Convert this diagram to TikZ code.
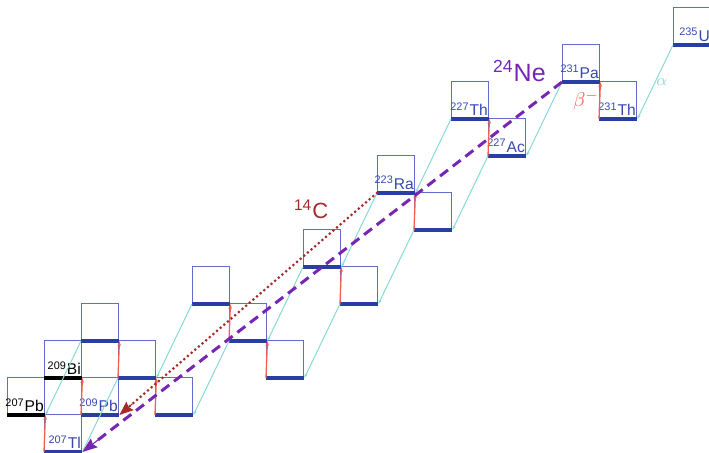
\documentclass[tikz,border=0pt]{standalone}
\usepackage{fontspec}
\setsansfont{Liberation Sans}
\usetikzlibrary{arrows.meta,positioning,calc}
\definecolor{boxblue}{RGB}{95,110,205}
\definecolor{baseblue}{RGB}{40,62,165}
\definecolor{txtblue}{RGB}{55,72,175}
\definecolor{alphacyan}{RGB}{135,218,212}
\definecolor{betared}{RGB}{242,95,82}
\definecolor{cred}{RGB}{165,42,42}
\definecolor{nepurple}{RGB}{118,38,178}

\begin{document}
\begin{tikzpicture}[
    x=18.5pt, y=18.5pt,
    nuc/.style={rectangle, draw=boxblue, line width=0.7pt, anchor=south west, minimum size=18.5pt, inner sep=0pt},
    base/.style={draw=baseblue, line width=2pt},
    stablebase/.style={draw=black, line width=2pt},
    lab/.style={anchor=south east, inner xsep=0.6pt, inner ysep=1.4pt, text=txtblue, font=\sffamily\fontsize{7.8}{8}\selectfont},
    stablelab/.style={lab, text=black},
    alphadec/.style={draw=alphacyan, line width=0.5pt, -{Stealth[length=2.2pt,width=1.6pt]}},
    betadec/.style={draw=betared, line width=0.65pt, -{Stealth[length=2.4pt,width=1.8pt]}},
    ctrack/.style={draw=cred, line width=1.5pt, line cap=round, dash pattern=on 0pt off 2.4pt},
    netrack/.style={draw=nepurple, line width=1.5pt, dash pattern=on 5pt off 3pt},
    ctip/.style={draw=cred, fill=cred, line width=0.5pt, -{Stealth[length=7pt,width=5.5pt,inset=1pt]}},
    netip/.style={draw=nepurple, fill=nepurple, line width=0.5pt, -{Stealth[length=7.5pt,width=5.5pt,inset=1pt]}}
]
    \useasboundingbox (-0.189,-0.027) rectangle (18.973,12.216);

    % Nuclides (column = N-125, row = Z-81)
    \node[nuc] (Pb207) at (0,1) {};
    \node[nuc] (Tl207) at (1,0) {};
    \node[nuc] (Bi209) at (1,2) {};
    \node[nuc] (Pb209) at (2,1) {};
    \node[nuc] (Po211) at (2,3) {};
    \node[nuc] (Bi211) at (3,2) {};
    \node[nuc] (Pb211) at (4,1) {};
    \node[nuc] (At215) at (5,4) {};
    \node[nuc] (Po215) at (6,3) {};
    \node[nuc] (Bi215) at (7,2) {};
    \node[nuc] (Rn219) at (8,5) {};
    \node[nuc] (At219) at (9,4) {};
    \node[nuc] (Ra223) at (10,7) {};
    \node[nuc] (Fr223) at (11,6) {};
    \node[nuc] (Th227) at (12,9) {};
    \node[nuc] (Ac227) at (13,8) {};
    \node[nuc] (Pa231) at (15,10) {};
    \node[nuc] (Th231) at (16,9) {};
    \node[nuc] (U235) at (18,11) {};

    % Ground-state bars
    \draw[stablebase] (Pb207.south west) -- (Pb207.south east);
    \draw[stablebase] (Bi209.south west) -- (Bi209.south east);
    \foreach \n in {Tl207,Pb209,Po211,Bi211,Pb211,At215,Po215,Bi215,Rn219,At219,Ra223,Fr223,Th227,Ac227,Pa231,Th231,U235}
        \draw[base] (\n.south west) -- (\n.south east);

    % Labels
    \node[stablelab] at (Pb207.south east) {\textsuperscript{207}Pb};
    \node[stablelab] at (Bi209.south east) {\textsuperscript{209}Bi};
    \node[lab] at (Tl207.south east) {\textsuperscript{207}Tl};
    \node[lab] at (Pb209.south east) {\textsuperscript{209}Pb};
    \node[lab] at (Ra223.south east) {\textsuperscript{223}Ra};
    \node[lab] at (Th227.south east) {\textsuperscript{227}Th};
    \node[lab] at (Ac227.south east) {\textsuperscript{227}Ac};
    \node[lab] at (Pa231.south east) {\textsuperscript{231}Pa};
    \node[lab] at (Th231.south east) {\textsuperscript{231}Th};
    \node[lab] at (U235.south east) {\textsuperscript{235}U};

    % Alpha decays
    \draw[alphadec] (U235.south west) -- (Th231.south east);
    \draw[alphadec] (Pa231.south west) -- (Ac227.south east);
    \draw[alphadec] (Ac227.south west) -- (Fr223.south east);
    \draw[alphadec] (Th227.south west) -- (Ra223.south east);
    \draw[alphadec] (Ra223.south west) -- (Rn219.south east);
    \draw[alphadec] (Fr223.south west) -- (At219.south east);
    \draw[alphadec] (Rn219.south west) -- (Po215.south east);
    \draw[alphadec] (At219.south west) -- (Bi215.south east);
    \draw[alphadec] (Po215.south west) -- (Pb211.south east);
    \draw[alphadec] (At215.south west) -- (Bi211.south east);
    \draw[alphadec] (Bi211.south west) -- (Tl207.south east);
    \draw[alphadec] (Po211.south west) -- (Pb207.south east);

    % Beta decays
    \draw[betadec] (Th231.south west) -- (Pa231.south east);
    \draw[betadec] (Ac227.south west) -- (Th227.south east);
    \draw[betadec] (Fr223.south west) -- (Ra223.south east);
    \draw[betadec] (At219.south west) -- (Rn219.south east);
    \draw[betadec] (Bi215.south west) -- (Po215.south east);
    \draw[betadec] (Po215.south west) -- (At215.south east);
    \draw[betadec] (Pb211.south west) -- (Bi211.south east);
    \draw[betadec] (Bi211.south west) -- (Po211.south east);
    \draw[betadec] (Tl207.south west) -- (Pb207.south east);
    \draw[betadec] (Pb209.south west) -- (Bi209.south east);

    % Cluster decays
    \draw[ctrack] (Ra223.south west) -- ($(Ra223.south west)!0.96!(Pb209.south east)$);
    \draw[ctip] ($(Ra223.south west)!0.95!(Pb209.south east)$) -- (Pb209.south east);
    \draw[netrack] (Pa231.south west) -- ($(Pa231.south west)!0.97!(Tl207.south east)$);
    \draw[netip] ($(Pa231.south west)!0.96!(Tl207.south east)$) -- (Tl207.south east);

    \node[text=cred, font=\sffamily\fontsize{11}{12}\selectfont] (clab) at (8.22,6.56) {\textsuperscript{14}C};
    \node[text=nepurple, font=\sffamily\fontsize{12.5}{13}\selectfont] (nelab) at (13.85,10.3) {\textsuperscript{24}Ne};
    \node[text=betared, font=\fontsize{10}{11}\selectfont] (betalab) at (15.65,9.5) {$\beta^-$};
    \node[text=alphacyan, font=\fontsize{8.5}{9}\selectfont] (alphalab) at (17.7,10.0) {$\alpha$};
\end{tikzpicture}
\end{document}
